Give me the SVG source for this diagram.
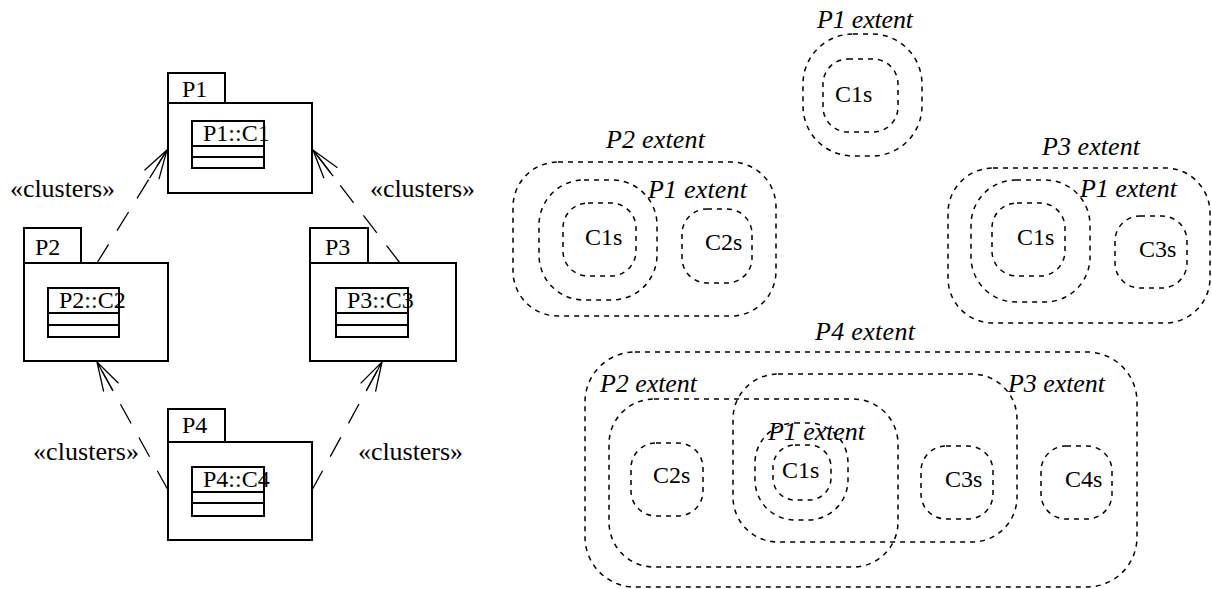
<svg xmlns="http://www.w3.org/2000/svg" width="1212" height="589" viewBox="0 0 1212 589">
<style>
.pk{fill:none;stroke:#000;stroke-width:2}
.cl{fill:none;stroke:#000;stroke-width:2}
.t{font-family:"Liberation Serif","Times New Roman",serif;font-size:24px;fill:#000}
.st{font-family:"Liberation Serif","Times New Roman",serif;font-size:26px;fill:#000}
.it{font-family:"Liberation Serif","Times New Roman",serif;font-size:26px;font-style:italic;fill:#000}
.ext{fill:none;stroke:#000;stroke-width:1.5;stroke-dasharray:5 5}
.dep{fill:none;stroke:#000;stroke-width:1.3;stroke-dasharray:22 16}
</style>
<defs>
<marker id="open" viewBox="-35 -10 36 20" markerWidth="36" markerHeight="20" refX="0" refY="0" orient="auto" markerUnits="userSpaceOnUse">
<path d="M-29,-8.5 L0,0 L-29,8.5 M-33,0 L0,0" fill="none" stroke="#000" stroke-width="1.3"/>
</marker>
</defs>

<g id="connectors">
<line class="dep" x1="97" y1="263" x2="167" y2="150" marker-end="url(#open)"/>
<line class="dep" x1="400" y1="263" x2="313" y2="150" marker-end="url(#open)"/>
<line class="dep" x1="168" y1="490" x2="97" y2="362" marker-end="url(#open)"/>
<line class="dep" x1="312" y1="490" x2="382" y2="362" marker-end="url(#open)"/>
<text class="st" x="10" y="197" textLength="105">«clusters»</text>
<text class="st" x="370" y="197" textLength="105">«clusters»</text>
<text class="st" x="33" y="460" textLength="106">«clusters»</text>
<text class="st" x="358" y="460" textLength="105">«clusters»</text>
</g>

<g id="P1">
<rect class="pk" x="168" y="73" width="57" height="30"/>
<rect class="pk" x="168" y="103" width="144" height="90"/>
<text class="t" x="182" y="97">P1</text>
<rect class="cl" x="192" y="121" width="72" height="47"/>
<line class="cl" x1="192" y1="146" x2="264" y2="146"/>
<line class="cl" x1="192" y1="157" x2="264" y2="157"/>
<text class="t" x="203" y="141">P1::C1</text>
</g>
<g id="P2">
<rect class="pk" x="24" y="228" width="57" height="35"/>
<rect class="pk" x="24" y="263" width="144" height="98"/>
<text class="t" x="35" y="255">P2</text>
<rect class="cl" x="48" y="288" width="71" height="49"/>
<line class="cl" x1="48" y1="313" x2="119" y2="313"/>
<line class="cl" x1="48" y1="325" x2="119" y2="325"/>
<text class="t" x="59" y="308">P2::C2</text>
</g>
<g id="P3">
<rect class="pk" x="310" y="228" width="58" height="35"/>
<rect class="pk" x="310" y="263" width="146" height="98"/>
<text class="t" x="325" y="255">P3</text>
<rect class="cl" x="336" y="288" width="72" height="49"/>
<line class="cl" x1="336" y1="313" x2="408" y2="313"/>
<line class="cl" x1="336" y1="325" x2="408" y2="325"/>
<text class="t" x="347" y="308">P3::C3</text>
</g>
<g id="P4">
<rect class="pk" x="168" y="409" width="57" height="33"/>
<rect class="pk" x="168" y="442" width="144" height="98"/>
<text class="t" x="182" y="433">P4</text>
<rect class="cl" x="192" y="467" width="72" height="49"/>
<line class="cl" x1="192" y1="492" x2="264" y2="492"/>
<line class="cl" x1="192" y1="503" x2="264" y2="503"/>
<text class="t" x="203" y="487">P4::C4</text>
</g>

<g id="P1-extent-top">
<rect class="ext" x="803" y="34" width="119" height="122" rx="50"/>
<text class="it" x="817" y="28" textLength="96">P1 extent</text>
<rect class="ext" x="823" y="59" width="75" height="73" rx="25"/>
<text class="t" x="835" y="102">C1s</text>
</g>

<g id="P2-extent-group">
<rect class="ext" x="513" y="162" width="263" height="154" rx="45"/>
<text class="it" x="606" y="148" textLength="99">P2 extent</text>
<rect class="ext" x="539" y="180" width="118" height="120" rx="45"/>
<text class="it" x="648" y="198" textLength="99">P1 extent</text>
<rect class="ext" x="563" y="203" width="73" height="73" rx="25"/>
<text class="t" x="585" y="245">C1s</text>
<rect class="ext" x="682" y="209" width="70" height="74" rx="25"/>
<text class="t" x="705" y="250">C2s</text>
</g>

<g id="P3-extent-group">
<rect class="ext" x="948" y="168" width="262" height="155" rx="45"/>
<text class="it" x="1042" y="155" textLength="98">P3 extent</text>
<rect class="ext" x="971" y="180" width="119" height="122" rx="45"/>
<text class="it" x="1080" y="197" textLength="97">P1 extent</text>
<rect class="ext" x="992" y="203" width="73" height="73" rx="25"/>
<text class="t" x="1017" y="245">C1s</text>
<rect class="ext" x="1115" y="216" width="72" height="72" rx="25"/>
<text class="t" x="1139" y="257">C3s</text>
</g>

<g id="P4-extent-group">
<rect class="ext" x="585" y="352" width="552" height="235" rx="50"/>
<text class="it" x="815" y="340" textLength="100">P4 extent</text>
<rect class="ext" x="609" y="399" width="289" height="168" rx="45"/>
<text class="it" x="600" y="392" textLength="97">P2 extent</text>
<rect class="ext" x="733" y="374" width="284" height="168" rx="45"/>
<text class="it" x="1008" y="392" textLength="97">P3 extent</text>
<rect class="ext" x="755" y="423" width="93" height="97" rx="40"/>
<text class="it" x="768" y="440" textLength="97">P1 extent</text>
<rect class="ext" x="773" y="445" width="58" height="55" rx="22"/>
<text class="t" x="782" y="478">C1s</text>
<rect class="ext" x="631" y="443" width="72" height="73" rx="25"/>
<text class="t" x="653" y="483">C2s</text>
<rect class="ext" x="921" y="446" width="72" height="73" rx="25"/>
<text class="t" x="945" y="487">C3s</text>
<rect class="ext" x="1041" y="446" width="71" height="73" rx="25"/>
<text class="t" x="1065" y="487">C4s</text>
</g>
</svg>
